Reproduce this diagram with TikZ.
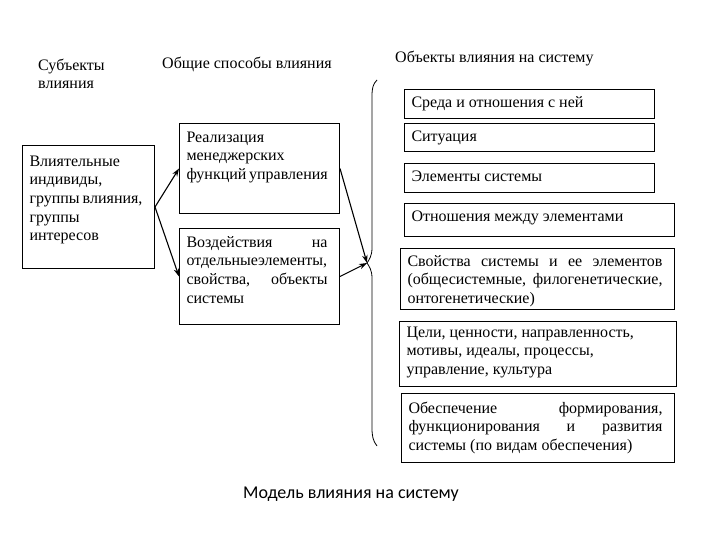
\documentclass[tikz,border=0pt]{standalone}
\usepackage{fontspec}
\setmainfont{Liberation Serif}
\newfontfamily\capfont{Carlito}
\usetikzlibrary{arrows.meta}
% box text: width, height, top gap, lines
\newcommand{\cell}[4]{\hspace*{7pt}\parbox[t][#2pt][t]{\dimexpr#1pt-19pt\relax}{\raggedright\vspace*{#3pt}\strut#4\strut}\hspace*{12pt}}
\begin{document}
\begin{tikzpicture}[x=1pt,y=-1pt]
\tikzstyle{every node}+=[inner sep=0pt, font=\fontsize{16}{18.7}\selectfont]
\tikzstyle{cellbox}=[draw, line width=1pt, anchor=north west]
\tikzstyle{link}=[line width=1.1pt, -{Stealth[length=8pt,width=5.5pt]}]
\useasboundingbox (0,0) rectangle (720,540);
% headers
\node [anchor=west, align=left] (hsubj) at (38,74) {Субъекты\\влияния};
\node [anchor=base west] (hways) at (162,69) {Общие способы влияния};
\node [anchor=base west] (hobj) at (395,63) {Объекты влияния на систему};
% subjects and ways
\node [cellbox] (infl) at (22,145) {\cell{132}{123}{7.5}{Влиятельные\\индивиды,\\группы~влияния,\\группы\\интересов}};
\node [cellbox] (real) at (179,123) {\cell{160}{90}{5.5}{Реализация\\менеджерских\\функций~управления}};
\node [cellbox] (vozd) at (179,228) {\cell{160}{96}{5.5}{Воздействия\hfill на\\отдельныеэлементы,\\свойства,\hfill объекты\\системы}};
% objects
\node [cellbox] (env) at (404,89) {\cell{250}{29}{4.5}{Среда и отношения с ней}};
\node [cellbox] (situ) at (404,123) {\cell{250}{28}{5}{Ситуация}};
\node [cellbox] (elem) at (404,163) {\cell{250}{29}{4.5}{Элементы системы}};
\node [cellbox] (rel) at (404,203) {\cell{270}{33}{4.5}{Отношения между элементами}};
\node [cellbox] (prop) at (400,248) {\cell{274}{61}{4.5}{Свойства\hfill системы\hfill и\hfill ее\hfill элементов\\(общесистемные,\hfill филогенетические,\\онтогенетические)}};
\node [cellbox] (goal) at (399,321) {\cell{277}{65}{2.5}{Цели, ценности, направленность,\\мотивы, идеалы, процессы,\\управление, культура}};
\node [cellbox] (supp) at (401,393) {\cell{273}{69}{6.5}{Обеспечение\hfill формирования,\\функционирования\hfill и\hfill развития\\системы (по видам обеспечения)}};
% brace
\coordinate (tip) at (367,263);
\draw [line width=0.8pt] (377,80) .. controls (373,84) and (372,88) .. (372,96) -- (372,248)
  .. controls (372,256) and (369,260) .. (tip) .. controls (369,266) and (372,270) .. (372,278)
  -- (372,428) .. controls (372,436) and (373,441) .. (377,446);
% arrows
\draw [link] (infl.east) -- (real.west);
\draw [link] (infl.east) -- (vozd.west);
\draw [link] (real.east) -- (tip);
\draw [link] (vozd.east) -- (tip);
% caption
\node [anchor=base, font=\capfont\fontsize{18}{20}\selectfont] (cap) at (351,498) {Модель влияния на систему};
\end{tikzpicture}
\end{document}
